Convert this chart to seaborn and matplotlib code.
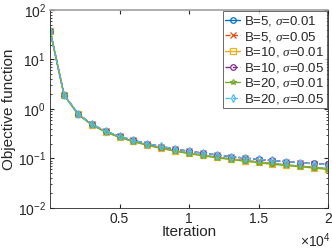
import numpy as np
import pandas as pd
import matplotlib
matplotlib.use("Agg")
import matplotlib.pyplot as plt
import seaborn as sns
from matplotlib.ticker import FixedLocator, FixedFormatter, LogLocator, NullFormatter

sns.set_style("ticks")
plt.rcParams['font.family'] = ['Liberation Sans', 'DejaVu Sans']
plt.rcParams['mathtext.fontset'] = 'custom'
plt.rcParams['mathtext.rm'] = 'Liberation Sans'
plt.rcParams['mathtext.it'] = 'Liberation Serif:italic'

iterations = [0, 1000, 2000, 3000, 4000, 5000, 6000, 7000, 8000, 9000, 10000,
              11000, 12000, 13000, 14000, 15000, 16000, 17000, 18000, 19000, 20000]

b5_s001 = [38, 1.92, 0.79, 0.48, 0.345, 0.27, 0.222, 0.188, 0.163, 0.143, 0.128,
           0.116, 0.106, 0.098, 0.091, 0.085, 0.079, 0.074, 0.070, 0.066, 0.062]
b5_s005 = [38, 1.95, 0.80, 0.49, 0.355, 0.278, 0.231, 0.197, 0.174, 0.154, 0.139,
           0.127, 0.117, 0.108, 0.101, 0.095, 0.090, 0.086, 0.082, 0.078, 0.075]
b10_s001 = [38, 1.92, 0.79, 0.48, 0.345, 0.27, 0.221, 0.187, 0.162, 0.142, 0.127,
            0.115, 0.105, 0.097, 0.090, 0.084, 0.078, 0.073, 0.069, 0.065, 0.061]
b10_s005 = [38, 1.95, 0.80, 0.49, 0.356, 0.279, 0.232, 0.198, 0.174, 0.155, 0.140,
            0.128, 0.118, 0.109, 0.102, 0.096, 0.091, 0.086, 0.082, 0.079, 0.076]
b20_s001 = [38, 1.91, 0.78, 0.475, 0.34, 0.266, 0.218, 0.184, 0.159, 0.140, 0.125,
            0.113, 0.103, 0.095, 0.088, 0.082, 0.076, 0.072, 0.068, 0.064, 0.060]
b20_s005 = [38, 1.95, 0.80, 0.49, 0.355, 0.279, 0.232, 0.198, 0.175, 0.155, 0.140,
            0.128, 0.118, 0.109, 0.102, 0.096, 0.091, 0.086, 0.082, 0.078, 0.075]

labels = [r'B=5, $\sigma$=0.01', r'B=5, $\sigma$=0.05', r'B=10, $\sigma$=0.01',
          r'B=10, $\sigma$=0.05', r'B=20, $\sigma$=0.01', r'B=20, $\sigma$=0.05']
series = [b5_s001, b5_s005, b10_s001, b10_s005, b20_s001, b20_s005]
colors = ['#0072BD', '#D95319', '#EDB120', '#7E2F8E', '#77AC30', '#4DBEEE']
markers = ['o', 'x', 's', 'o', '*', 'd']
styles = ['-', '--', '-', '--', '-', '--']

xtick_vals = [5000, 10000, 15000, 20000]
xtick_labels = ['0.5', '1', '1.5', '2']

fig = plt.figure(figsize=(3.32, 2.49), dpi=100)
ax = fig.add_axes([0.151, 0.165, 0.837, 0.795])

for lab, vals, c, m, ls in zip(labels, series, colors, markers, styles):
    df = pd.DataFrame({'Iteration': iterations, 'Objective': vals})
    sns.lineplot(data=df, x='Iteration', y='Objective', ax=ax, color=c,
                 marker=m, linestyle=ls, linewidth=1.0, markersize=4,
                 markerfacecolor='none', markeredgecolor=c, markeredgewidth=0.9,
                 label=lab)

ax.set_yscale('log')
ax.set_ylim(1e-2, 1e2)
ax.set_xlim(0, 20000)
ax.xaxis.set_major_locator(FixedLocator(xtick_vals))
ax.xaxis.set_major_formatter(FixedFormatter(xtick_labels))
ax.yaxis.set_major_locator(LogLocator(base=10, numticks=10))
ax.yaxis.set_minor_locator(LogLocator(base=10, subs=np.arange(2, 10), numticks=10))
ax.yaxis.set_minor_formatter(NullFormatter())

ax.tick_params(direction='in', which='both', top=True, right=True, labelsize=10,
               color='#262626', pad=3)
ax.tick_params(which='major', length=3)
ax.tick_params(which='minor', length=1.7)
for s in ['left', 'right', 'bottom']:
    ax.spines[s].set_color('#262626')
    ax.spines[s].set_linewidth(0.6)
ax.spines['top'].set_color('#a0a0a0')
ax.spines['top'].set_linewidth(1.2)

ax.set_xlabel('Iteration', fontsize=11, color='#262626', labelpad=-0.5)
ax.set_ylabel('Objective function', fontsize=11, color='#262626', labelpad=1)
ax.text(1.008, -0.118, r'$\times\mathregular{10^4}$', transform=ax.transAxes,
        ha='right', va='top', fontsize=10, color='#262626')

leg = ax.legend(loc='upper right', fontsize=9.5, frameon=True, fancybox=False,
                borderpad=0.2, labelspacing=0.12, handlelength=1.1, handletextpad=0.3,
                borderaxespad=0.1, markerscale=1.0)
leg.get_frame().set_edgecolor('#262626')
leg.get_frame().set_linewidth(0.6)

fig.savefig('out.png', dpi=100)
